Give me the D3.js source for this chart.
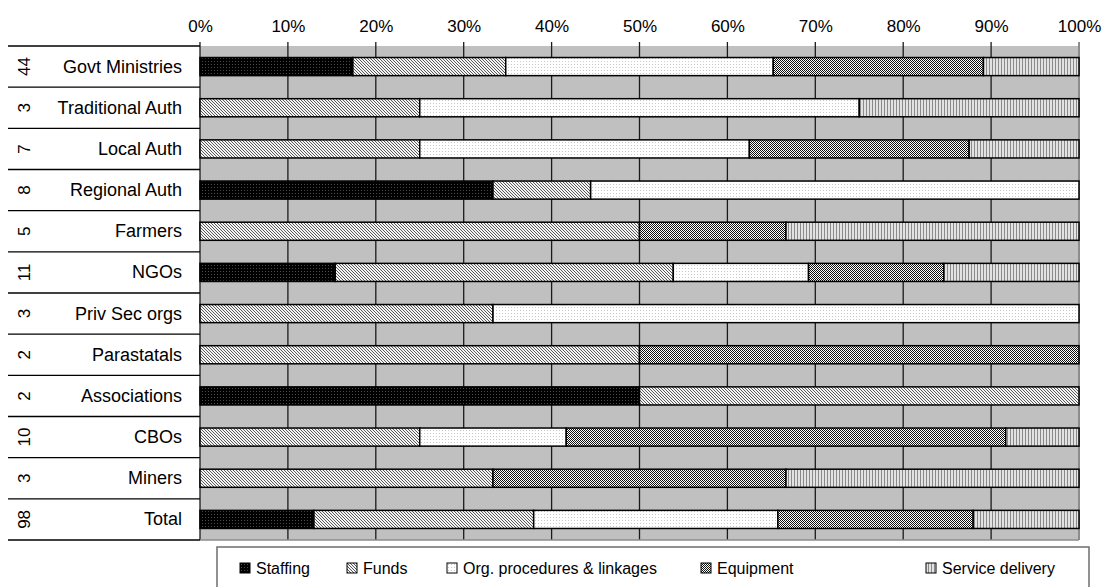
<!DOCTYPE html>
<html>
<head>
<meta charset="utf-8">
<script src="https://cdn.jsdelivr.net/npm/d3@7"></script>
<style>
  html, body { margin: 0; padding: 0; background: #fff; }
  svg { display: block; font-family: "Liberation Sans", Arial, sans-serif; }
</style>
</head>
<body>
<svg id="chart" width="1106" height="587"></svg>
<script>
// Constraint types reported by each stakeholder group (number of mentions)
const categories = ["Govt Ministries", "Traditional Auth", "Local Auth", "Regional Auth", "Farmers", "NGOs",
                    "Priv Sec orgs", "Parastatals", "Associations", "CBOs", "Miners", "Total"];
const respondents = [44, 3, 7, 8, 5, 11, 3, 2, 2, 10, 3, 98];
const staffing  = [8, 0, 0, 3, 0, 2, 0, 0, 1, 0, 0, 14];
const funds     = [8, 1, 2, 1, 3, 5, 1, 1, 1, 3, 1, 27];
const orgProc   = [14, 2, 3, 5, 0, 2, 2, 0, 0, 2, 0, 30];
const equipment = [11, 0, 2, 0, 1, 2, 0, 1, 0, 6, 1, 24];
const service   = [5, 1, 1, 0, 2, 2, 0, 0, 0, 1, 1, 13];
const seriesNames = ["Staffing", "Funds", "Org. procedures & linkages", "Equipment", "Service delivery"];
const tickValues = [0, 0.1, 0.2, 0.3, 0.4, 0.5, 0.6, 0.7, 0.8, 0.9, 1];

const seriesKeys = ["staffing", "funds", "orgProc", "equipment", "service"];
const rows = categories.map((c, i) => ({
  category: c, n: respondents[i],
  staffing: staffing[i], funds: funds[i], orgProc: orgProc[i], equipment: equipment[i], service: service[i]
}));

const svg = d3.select("#chart");
const plot = { left: 200, right: 1079, top: 46, bottom: 540 };

// ---- fill patterns ----
const defs = svg.append("defs");
function pattern(id, w, h, build) {
  const p = defs.append("pattern").attr("id", id).attr("patternUnits", "userSpaceOnUse")
    .attr("width", w).attr("height", h);
  build(p);
}
pattern("p-staffing", 3, 3, p => {
  p.append("rect").attr("width", 3).attr("height", 3).attr("fill", "#000");
  p.append("rect").attr("x", 1).attr("y", 1).attr("width", 1).attr("height", 1).attr("fill", "#4a4a4a");
});
pattern("p-funds", 3, 3, p => {
  p.append("rect").attr("width", 3).attr("height", 3).attr("fill", "#f4f4f4");
  p.append("path").attr("d", "M-1,-1 L4,4 M-1,2 L1,4 M2,-1 L4,1").attr("stroke", "#5a5a5a").attr("stroke-width", 1);
});
pattern("p-org", 3, 3, p => {
  p.append("rect").attr("width", 3).attr("height", 3).attr("fill", "#fff");
  p.append("rect").attr("x", 1).attr("y", 1).attr("width", 1).attr("height", 1).attr("fill", "#c8c8c8");
});
pattern("p-equipment", 2, 2, p => {
  p.append("rect").attr("width", 2).attr("height", 2).attr("fill", "#fff");
  p.append("rect").attr("x", 0).attr("y", 0).attr("width", 1).attr("height", 1).attr("fill", "#111");
  p.append("rect").attr("x", 1).attr("y", 1).attr("width", 1).attr("height", 1).attr("fill", "#111");
});
pattern("p-service", 3, 3, p => {
  p.append("rect").attr("width", 3).attr("height", 3).attr("fill", "#e2e2e2");
  p.append("rect").attr("x", 2).attr("y", 0).attr("width", 1).attr("height", 3).attr("fill", "#8a8a8a");
});
const fills = ["url(#p-staffing)", "url(#p-funds)", "url(#p-org)", "url(#p-equipment)", "url(#p-service)"];

// ---- scales ----
const x = d3.scaleLinear().domain([0, 1]).range([plot.left, plot.right]);
const y = d3.scaleBand().domain(categories).range([plot.top, plot.bottom])
  .paddingInner(0.56).paddingOuter(0.28);
const step = y.step();

// plot background
svg.append("rect").attr("x", plot.left).attr("y", plot.top)
  .attr("width", plot.right - plot.left).attr("height", plot.bottom - plot.top)
  .attr("fill", "#c0c0c0");

// vertical gridlines
svg.append("g").selectAll("line").data(tickValues).join("line")
  .attr("x1", d => x(d)).attr("x2", d => x(d))
  .attr("y1", plot.top - 4).attr("y2", plot.bottom)
  .attr("stroke", d => d === 1 ? "#8c8c8c" : "#1a1a1a")
  .attr("stroke-width", d => d === 1 ? 2 : 1.3);

// top percentage axis
const axis = svg.append("g").attr("transform", `translate(0,${plot.top - 4})`)
  .call(d3.axisTop(x).tickValues(tickValues).tickFormat(d3.format(".0%")).tickSize(0).tickPadding(10));
axis.select(".domain").remove();
axis.selectAll("text").attr("font-size", 17).attr("fill", "#000")
  .attr("font-family", "'Liberation Sans', Arial, sans-serif");

// left table: row separators, counts, category labels
const table = svg.append("g");
table.selectAll("line.sep").data(d3.range(categories.length + 1)).join("line")
  .attr("class", "sep")
  .attr("x1", 8).attr("x2", plot.left)
  .attr("y1", i => plot.top + i * step).attr("y2", i => plot.top + i * step)
  .attr("stroke", "#000").attr("stroke-width", 1.3);
table.append("line").attr("x1", plot.left).attr("x2", plot.right)
  .attr("y1", plot.bottom).attr("y2", plot.bottom).attr("stroke", "#8c8c8c").attr("stroke-width", 1.3);

table.selectAll("text.cat").data(rows).join("text")
  .attr("class", "cat")
  .attr("x", 182).attr("y", d => y(d.category) + y.bandwidth() / 2)
  .attr("text-anchor", "end").attr("dominant-baseline", "central")
  .attr("font-size", 18).attr("fill", "#000")
  .text(d => d.category);

table.selectAll("text.num").data(rows).join("text")
  .attr("class", "num")
  .attr("transform", d => `translate(24,${y(d.category) + y.bandwidth() / 2}) rotate(-90)`)
  .attr("text-anchor", "middle").attr("dominant-baseline", "central")
  .attr("font-size", 17).attr("fill", "#000")
  .text(d => d.n);

// 100% stacked bars
const stacked = d3.stack().keys(seriesKeys).offset(d3.stackOffsetExpand)(rows);
const bars = svg.append("g");
stacked.forEach((layer, k) => {
  bars.append("g").selectAll("rect")
    .data(layer.filter(s => s[1] - s[0] > 0))
    .join("rect")
    .attr("x", s => x(s[0]))
    .attr("width", s => x(s[1]) - x(s[0]))
    .attr("y", s => y(s.data.category))
    .attr("height", y.bandwidth())
    .attr("fill", fills[k])
    .attr("stroke", "#000").attr("stroke-width", 1.5);
});

// legend
const legend = svg.append("g");
legend.append("rect").attr("x", 217).attr("y", 547).attr("width", 872).attr("height", 60)
  .attr("fill", "#fff").attr("stroke", "#6e6e6e").attr("stroke-width", 1.5);
const legendX = [240, 347, 447, 701, 926];
seriesNames.forEach((name, k) => {
  const g = legend.append("g").attr("transform", `translate(${legendX[k]},563)`);
  g.append("rect").attr("width", 10).attr("height", 10)
    .attr("fill", fills[k]).attr("stroke", "#000").attr("stroke-width", 1);
  g.append("text").attr("x", 16).attr("y", 10.5).attr("font-size", 16).attr("fill", "#000").text(name);
});
</script>
</body>
</html>
